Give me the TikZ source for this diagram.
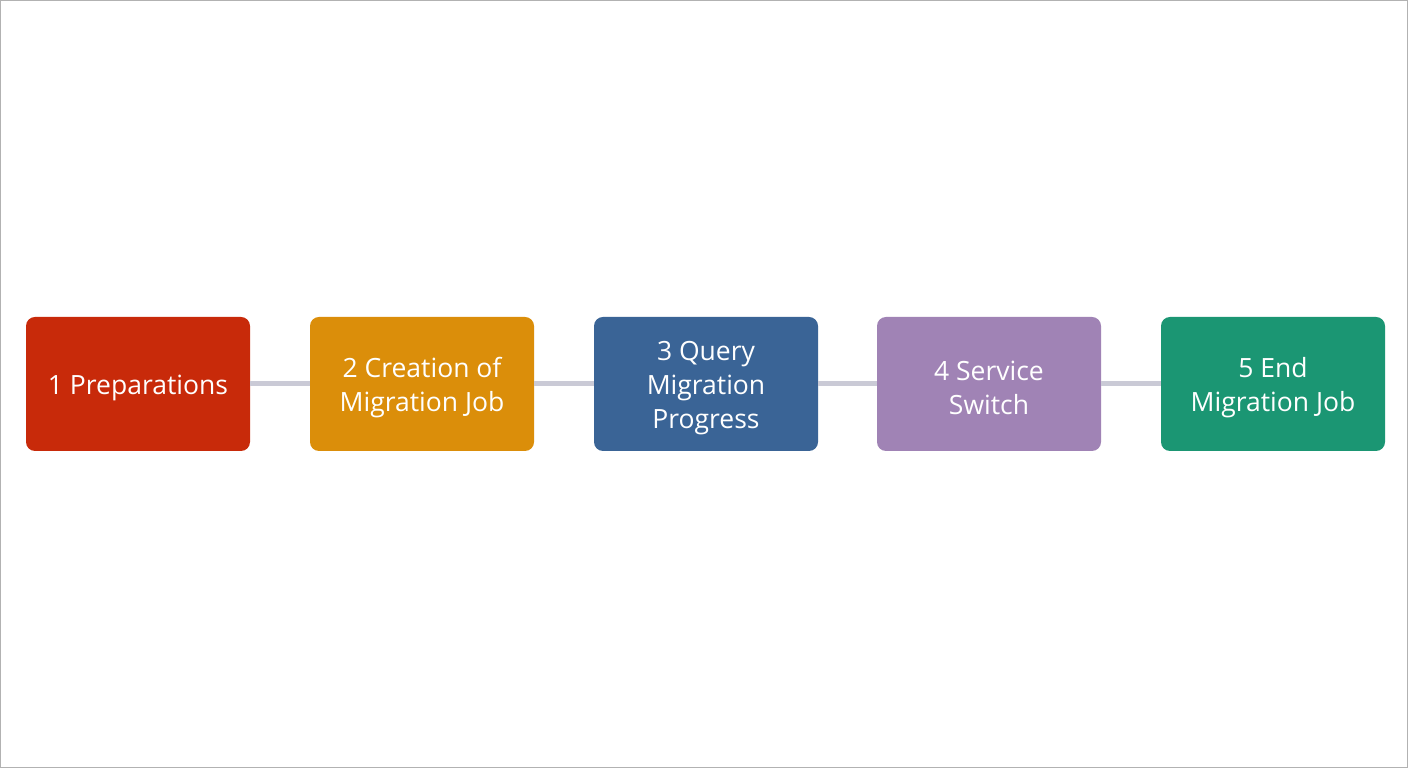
\documentclass[tikz,border=0pt]{standalone}
\usepackage{fontspec}
\setmainfont{Open Sans}
\definecolor{cred}{HTML}{C82A0A}
\definecolor{corange}{HTML}{DB8E0A}
\definecolor{cblue}{HTML}{3A6496}
\definecolor{cpurple}{HTML}{A083B5}
\definecolor{cgreen}{HTML}{1B9673}
\definecolor{cline}{HTML}{CACAD6}
\begin{document}
\begin{tikzpicture}[x=1pt,y=1pt,
  stepbox/.style={rectangle,rounded corners=9pt,minimum width=224pt,minimum height=134pt,inner sep=0pt},
  steptext/.style={text=white,align=center,font=\fontsize{26.5}{34}\selectfont,inner sep=0pt,yshift=-4pt},
  conn/.style={draw=cline,line width=5pt}]
\draw[draw=gray!60,line width=1pt,fill=white] (0.5,0.5) rectangle (1407.5,767.5);
\useasboundingbox (0,0) rectangle (1408,768);
\node[stepbox,fill=cred] (s1) at (138,384) {};
\node[stepbox,fill=corange] (s2) at (422,384) {};
\node[stepbox,fill=cblue] (s3) at (706,384) {};
\node[stepbox,fill=cpurple] (s4) at (989,384) {};
\node[stepbox,fill=cgreen] (s5) at (1273,384) {};
\node[steptext] (t1) at (s1.center) {1 Preparations};
\node[steptext] (t2) at (s2.center) {2 Creation of\\Migration Job};
\node[steptext] (t3) at (s3.center) {3 Query\\Migration\\Progress};
\node[steptext] (t4) at (s4.center) {4 Service\\Switch};
\node[steptext] (t5) at (s5.center) {5 End\\Migration Job};
\draw[conn] (s1.east) -- (s2.west);
\draw[conn] (s2.east) -- (s3.west);
\draw[conn] (s3.east) -- (s4.west);
\draw[conn] (s4.east) -- (s5.west);
\end{tikzpicture}
\end{document}
